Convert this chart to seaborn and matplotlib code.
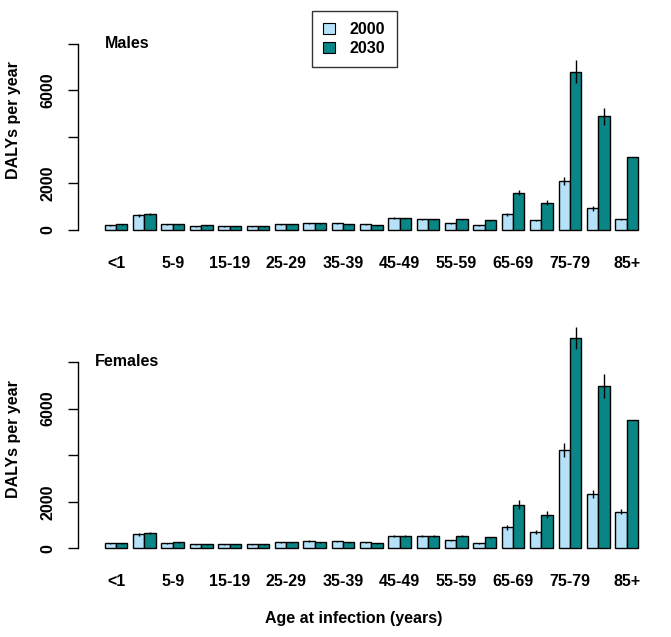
import numpy as np
import pandas as pd
import matplotlib
matplotlib.use('Agg')
import matplotlib.pyplot as plt
import seaborn as sns
from matplotlib.patches import Patch

sns.set_theme(style="white")
plt.rcParams['font.family'] = ['Liberation Sans', 'DejaVu Sans']
plt.rcParams['font.weight'] = 'bold'
plt.rcParams['text.color'] = 'black'
plt.rcParams['axes.labelcolor'] = 'black'
plt.rcParams['xtick.color'] = 'black'
plt.rcParams['ytick.color'] = 'black'

# ------------------------------------------
# data
# ------------------------------------------
age_groups = ["<1", "1-4", "5-9", "10-14", "15-19", "20-24", "25-29", "30-34",
              "35-39", "40-44", "45-49", "50-54", "55-59", "60-64", "65-69",
              "70-74", "75-79", "80-84", "85+"]
years = ["2000", "2030"]

males_2000 = [200, 625, 240, 155, 155, 155, 240, 285, 285, 240,
              500, 455, 285, 200, 670, 410, 2115, 925, 455]
males_2030 = [240, 680, 240, 200, 155, 155, 240, 285, 240, 200,
              500, 455, 455, 410, 1600, 1180, 6800, 4885, 3140]
males_err_2000 = [30, 60, 25, 25, 20, 20, 30, 30, 30, 25,
                  40, 40, 30, 20, 80, 40, 180, 100, 30]
males_err_2030 = [25, 50, 20, 20, 15, 15, 25, 20, 20, 20,
                  30, 30, 40, 30, 100, 110, 480, 355, 0]

females_2000 = [214, 600, 214, 171, 171, 171, 256, 313, 300, 256,
                513, 513, 342, 214, 897, 698, 4230, 2321, 1580]
females_2030 = [214, 655, 256, 171, 171, 171, 256, 256, 256, 214,
                513, 513, 513, 470, 1880, 1452, 9014, 6963, 5511]
females_err_2000 = [30, 60, 25, 20, 20, 20, 30, 30, 30, 25,
                    40, 40, 30, 20, 120, 70, 300, 180, 120]
females_err_2030 = [25, 50, 25, 20, 20, 20, 30, 25, 25, 20,
                    40, 40, 40, 30, 180, 130, 470, 500, 0]

ytick_vals = [0, 2000, 4000, 6000, 8000]
ytick_labels = ["0", "2000", "", "6000", ""]

colors = {"2000": "#B5E2F8", "2030": "#0B8686"}
fs = 11.5


def make_frame(v2000, v2030, e2000, e2030):
    return pd.DataFrame({
        "age": age_groups * 2,
        "year": ["2000"] * len(age_groups) + ["2030"] * len(age_groups),
        "dalys": v2000 + v2030,
        "err": e2000 + e2030,
    })


def draw_panel(ax, df, title, title_x):
    sns.barplot(data=df, x="age", y="dalys", hue="year", hue_order=years,
                order=age_groups, palette=colors, errorbar=None,
                edgecolor="black", linewidth=1.0, saturation=1,
                legend=False, ax=ax)
    # error bars from the given errors (no caps)
    for cont, yr in zip(ax.containers, years):
        errs = df.loc[df["year"] == yr, "err"].to_numpy()
        vals = df.loc[df["year"] == yr, "dalys"].to_numpy()
        xs = [p.get_x() + p.get_width() / 2 for p in cont.patches]
        keep = errs > 0
        ax.vlines(np.array(xs)[keep], (vals - errs)[keep], (vals + errs)[keep],
                  color="black", linewidth=1.0, zorder=5)

    ax.set_xlim(-1.355, 19.355)
    ax.set_ylim(-380, 9780)
    ax.set_xticks(range(0, len(age_groups), 2))
    ax.set_xticklabels(age_groups[::2], fontsize=fs, fontweight="bold")
    ax.tick_params(axis="x", length=0, pad=12)
    ax.set_yticks(ytick_vals)
    ax.set_yticklabels(ytick_labels, rotation=90, va="center",
                       fontsize=fs, fontweight="bold")
    ax.tick_params(axis="y", left=True, length=7, width=1.0, color="black",
                   pad=9)
    for side in ["top", "right", "bottom"]:
        ax.spines[side].set_visible(False)
    ax.spines["left"].set_bounds(0, 8000)
    ax.spines["left"].set_color("black")
    ax.spines["left"].set_linewidth(1.0)
    ax.set_xlabel("")
    ax.set_ylabel("DALYs per year", fontsize=fs, fontweight="bold")
    ax.yaxis.set_label_coords(-0.097, 0.5)
    ax.text(title_x, 8000, title, fontsize=fs, fontweight="bold",
            ha="left", va="center", transform=ax.transData)


W, H = 671, 637
fig = plt.figure(figsize=(W / 100, H / 100), dpi=100)

left = 77.7 / W
width = (665 - 77.7) / W
height = (238.9 - 2.2) / H
ax_top = fig.add_axes([left, 1 - 238.9 / H, width, height])
ax_bot = fig.add_axes([left, 1 - 557.2 / H, width, height])

draw_panel(ax_top, make_frame(males_2000, males_2030, males_err_2000, males_err_2030),
           "Males", -0.4)
draw_panel(ax_bot, make_frame(females_2000, females_2030, females_err_2000, females_err_2030),
           "Females", -0.75)

fig.text(353.5 / W, 1 - 618.3 / H, "Age at infection (years)",
         fontsize=fs, fontweight="bold", ha="center", va="center")

handles = [Patch(facecolor=colors[y], edgecolor="black", linewidth=0.8) for y in years]
leg = fig.legend(handles, years, loc="upper left",
                 bbox_to_anchor=(312.3 / W, 1 - 11 / H), bbox_transform=fig.transFigure,
                 frameon=True, fancybox=False, shadow=False, fontsize=fs,
                 handlelength=0.7, handleheight=0.6, handletextpad=0.95,
                 borderpad=0.7, labelspacing=0.25, borderaxespad=0)
leg.get_frame().set_edgecolor("black")
leg.get_frame().set_linewidth(1.0)
for t in leg.get_texts():
    t.set_fontweight("bold")

fig.savefig("out.png", dpi=100)
